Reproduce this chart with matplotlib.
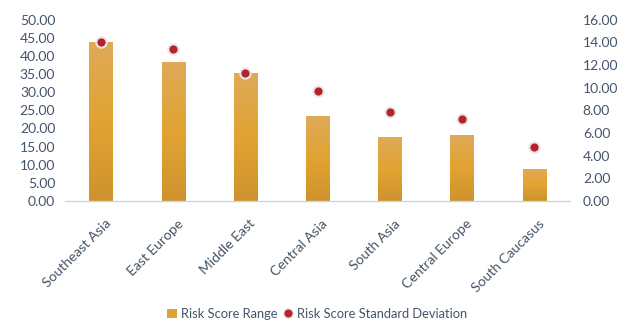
import matplotlib
matplotlib.use("Agg")
import matplotlib.pyplot as plt
import numpy as np
from matplotlib.colors import LinearSegmentedColormap
from matplotlib.patches import Patch
from matplotlib.lines import Line2D
from matplotlib.transforms import ScaledTranslation

categories = ["Southeast Asia", "East Europe", "Middle East", "Central Asia",
              "South Asia", "Central Europe", "South Caucasus"]
risk_range = [43.8, 38.2, 35.2, 23.4, 17.6, 18.1, 8.8]
risk_std = [14.05, 13.4, 11.3, 9.7, 7.85, 7.2, 4.75]
left_ticks = [0, 5, 10, 15, 20, 25, 30, 35, 40, 45, 50]
right_ticks = [0, 2, 4, 6, 8, 10, 12, 14, 16]

plt.rcParams['font.family'] = ['Lato', 'DejaVu Sans']
txt = '#44546A'
fs = 10

fig = plt.figure(figsize=(6.24, 3.22), dpi=100)
ax = fig.add_axes([0.104, 0.376, 0.81, 0.563])
x = np.arange(len(categories))
bars = ax.bar(x, risk_range, width=0.32, color='#E0A232', zorder=2)

cmap = LinearSegmentedColormap.from_list('g', ['#CE932E', '#E2A332', '#DFAA58'])
grad = np.linspace(0, 1, 256).reshape(-1, 1)
for b in bars:
    x0, y0 = b.get_x(), b.get_y()
    w, h = b.get_width(), b.get_height()
    im = ax.imshow(grad, cmap=cmap, origin='lower', aspect='auto',
                   extent=[x0, x0 + w, y0, y0 + h], zorder=2)
    im.set_clip_path(b)

ax.set_xlim(-0.5, len(categories) - 0.5)
ax.set_ylim(0, 50)
ax.set_yticks(left_ticks)
ax.set_yticklabels([f"{v:.2f}" for v in left_ticks])
ax.set_xticks(x)
ax.set_xticklabels(categories, rotation=45, ha='right', va='center',
                   rotation_mode='anchor')
ax.tick_params(axis='both', length=0, colors=txt, labelsize=fs)
ax.tick_params(axis='x', pad=15)
ax.tick_params(axis='y', pad=7)
off = ScaledTranslation(8 / 100, 0, fig.dpi_scale_trans)
for lab in ax.get_xticklabels():
    lab.set_transform(lab.get_transform() + off)
for s in ['top', 'right', 'left']:
    ax.spines[s].set_visible(False)
ax.spines['bottom'].set_color('#D0D4DA')
ax.spines['bottom'].set_linewidth(1.0)

ax2 = ax.twinx()
ax2.set_ylim(0, 16)
ax2.set_yticks(right_ticks)
ax2.set_yticklabels([f"{v:.2f}" for v in right_ticks])
ax2.tick_params(axis='y', length=0, colors=txt, labelsize=fs, pad=9)
for s in ax2.spines.values():
    s.set_visible(False)
ax2.scatter(x, risk_std, s=55, color='#B5232B', edgecolors='#E8E8E8',
            linewidths=1.5, zorder=3)

handles = [Patch(facecolor='#E0A232', edgecolor='none'),
           Line2D([], [], marker='o', linestyle='none', markersize=7,
                  markerfacecolor='#B5232B', markeredgecolor='#E8E8E8', markeredgewidth=1.2)]
fig.legend(handles, ["Risk Score Range", "Risk Score Standard Deviation"],
           loc='center', bbox_to_anchor=(0.508, 0.025), ncol=2, frameon=False,
           fontsize=9.3, labelcolor=txt, handlelength=0.8, handleheight=0.8,
           handletextpad=0.3, columnspacing=0.4)

fig.savefig('out.png', dpi=100)
